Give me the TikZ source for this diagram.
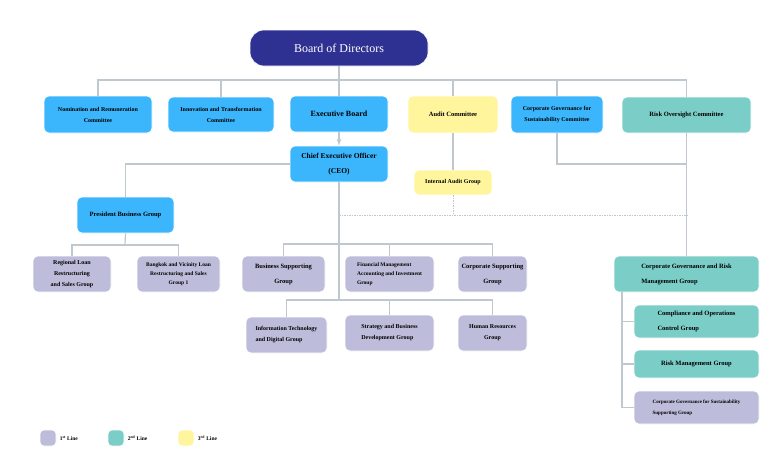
\documentclass[tikz,border=0pt]{standalone}
\usepackage{fontspec}
\setmainfont{Liberation Serif}
\begin{document}
\begin{tikzpicture}[x=1pt,y=-1pt,
 box/.style={rounded corners=5pt,draw=white,line width=0.6pt,align=center,font=\bfseries\fontsize{6}{11}\selectfont,inner sep=1pt},
 bl/.style={box,fill=cblue},
 lv/.style={box,fill=clav},
 tl/.style={box,fill=cteal},
 yl/.style={box,fill=cyel},
 ln/.style={draw=cline,line width=1.2pt},
 dl/.style={draw=cline,line width=0.8pt,dash pattern=on 1.5pt off 1pt}]
\definecolor{cblue}{HTML}{3BB6FC}
\definecolor{clav}{HTML}{BDBDDB}
\definecolor{cteal}{HTML}{7BCDC8}
\definecolor{cyel}{HTML}{FFF59D}
\definecolor{cline}{HTML}{BFC7CF}
\definecolor{cnavy}{HTML}{2E3192}
\useasboundingbox (0,0) rectangle (780,461);
\def\bx#1#2#3#4#5#6#7{\node[#2,minimum width=#5-#3,minimum height=#6-#4] (#1) at ({(#3+#5)/2},{(#4+#6)/2}) {#7};}
% lines first
\coordinate (tl) at (97,80); \coordinate (tr) at (687,80);
\draw[ln] (tl) -- (tr);
\bx{bod}{box,fill=cnavy,rounded corners=14pt,text=white,font=\fontsize{12}{14}\selectfont}{250}{30}{428}{66}{Board of Directors}
\bx{nom}{bl}{44}{96}{152}{133}{Nomination and Remuneration\\Committee}
\bx{inn}{bl}{168}{97}{274}{132}{Innovation and Transformation\\Committee}
\bx{exb}{bl,font=\bfseries\fontsize{8}{10}\selectfont}{290}{96}{388}{132}{Executive Board}
\bx{aud}{yl,font=\bfseries\fontsize{6.5}{10}\selectfont}{408}{96}{498}{133}{Audit Committee}
\bx{cgs}{bl}{511}{96}{603}{133}{Corporate Governance for\\Sustainability Committee}
\bx{roc}{tl,font=\bfseries\fontsize{6.5}{10}\selectfont}{622}{97}{751}{133}{Risk Oversight Committee}
\bx{ceo}{bl,font=\bfseries\fontsize{7.5}{15}\selectfont}{290}{146}{388}{182}{Chief Executive Officer\\(CEO)}
\bx{iag}{yl}{414}{170}{492}{195}{Internal Audit Group}
\bx{pbg}{bl,font=\bfseries\fontsize{6.5}{10}\selectfont}{77}{197}{174}{233}{President Business Group}
\bx{reg}{lv}{33}{256}{111}{292}{Regional Loan\\Restructuring\\and Sales Group}
\bx{bkk}{lv,font=\bfseries\fontsize{5.5}{9}\selectfont}{137}{256}{220}{292}{Bangkok and Vicinity Loan\\Restructuring and Sales\\Group 1}
\bx{bsg}{lv,font=\bfseries\fontsize{6.5}{15}\selectfont}{242}{256}{325}{292}{Business Supporting\\Group}
\bx{fin}{lv,font=\bfseries\fontsize{5.5}{9}\selectfont,align=left}{345}{256}{434}{292}{Financial Management\\Accounting and Investment\\Group}
\bx{csg}{lv,font=\bfseries\fontsize{6.5}{15}\selectfont}{458}{256}{527}{292}{Corporate Supporting\\Group}
\bx{itg}{lv,align=left}{246}{317}{327}{353}{Information Technology\\and Digital Group}
\bx{sbd}{lv,align=left}{345}{315}{434}{351}{Strategy and Business\\Development Group}
\bx{hrg}{lv}{458}{315}{527}{351}{Human Resources\\Group}
\bx{cgr}{tl,font=\bfseries\fontsize{6.5}{15}\selectfont,align=left}{614}{256}{759}{292}{Corporate Governance and Risk\\Management Group}
\bx{cog}{tl,font=\bfseries\fontsize{6.5}{15}\selectfont,align=left}{634}{305}{759}{338}{Compliance and Operations\\Control Group}
\bx{rmg}{tl,font=\bfseries\fontsize{6.5}{10}\selectfont}{634}{350}{759}{378}{Risk Management Group}
\bx{css}{lv,font=\bfseries\fontsize{5}{11}\selectfont,align=left}{634}{391}{759}{424}{Corporate Governance for Sustainability\\Supporting Group}
% connectors
\begin{scope}[on background layer/.style={}]
\end{scope}
\draw[ln] (bod.south) -- (339,80);
\foreach \n in {nom,inn,exb,aud,cgs,roc} \draw[ln] (\n.north|-tl) -- (\n.north);
\draw[ln,-latex] (exb) -- (ceo);
\draw[ln] (aud) -- (iag);
\draw[dl] (iag.south) -- (453,215);
\coordinate (dv) at (339,215);
\draw[dl] (dv) -- (687,215);
\draw[ln] (ceo.west) -| (pbg.north);
\coordinate (pb) at (125,245);
\draw[ln] (pbg.south) -- (pb);
\draw[ln] (reg.north) |- (pb) -| (bkk.north);
\coordinate (cb) at (339,300);
\draw[ln] (ceo.south) -- (cb);
\draw[ln] (bsg.north) |- (339,244) -| (csg.north);
\draw[ln] (fin.north) -- (fin.north|-csg.north) ++(0,-12) -- (fin.north);
\draw[ln] (itg.north) |- (cb) -| (hrg.north);
\draw[ln] (sbd.north) -- (sbd.north|-cb);
\draw[ln] (cgs.south) |- (687,164);
\draw[ln] (roc.south) -- (cgr.north);
\coordinate (rv) at (622,292);
\draw[ln] (rv) |- (css.west);
\draw[ln] (rv|-cog.west) -- (cog.west);
\draw[ln] (rv|-rmg.west) -- (rmg.west);
% redraw boxes on top
\foreach \n in {ceo,fin,cgr} {}
% legend
\node[lv,minimum size=16pt,rounded corners=4pt] (l1) at (48,438) {};
\node[tl,minimum size=16pt,rounded corners=4pt] (l2) at (116,438) {};
\node[yl,minimum size=16pt,rounded corners=4pt] (l3) at (186,438) {};
\node[font=\bfseries\fontsize{5.5}{7}\selectfont,anchor=west] at (l1.east) {1\textsuperscript{st} Line};
\node[font=\bfseries\fontsize{5.5}{7}\selectfont,anchor=west] at (l2.east) {2\textsuperscript{nd} Line};
\node[font=\bfseries\fontsize{5.5}{7}\selectfont,anchor=west] at (l3.east) {3\textsuperscript{rd} Line};
\end{tikzpicture}
\end{document}
